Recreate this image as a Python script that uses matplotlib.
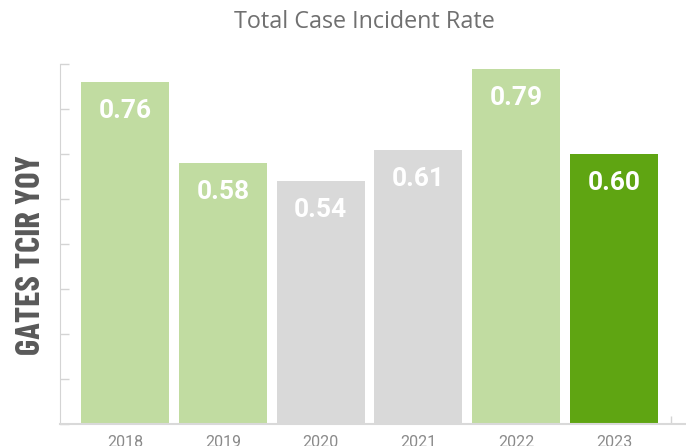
import matplotlib
matplotlib.use("Agg")
import matplotlib.pyplot as plt

# data
years = ["2018", "2019", "2020", "2021", "2022", "2023"]
tcir = [0.76, 0.58, 0.54, 0.61, 0.79, 0.60]
bar_colors = ["#c1dca1", "#c1dca1", "#d9d9d9", "#d9d9d9", "#c1dca1", "#5fa512"]

fig = plt.figure(figsize=(6.86, 4.46), dpi=100)
ax = fig.add_axes([60 / 686, 22 / 446, 626 / 686, 360 / 446])

x = list(range(len(years)))
bars = ax.bar(x, tcir, width=0.9, color=bar_colors, zorder=2)

for xi, v in zip(x, tcir):
    ax.text(xi, v - 0.065, f"{v:.2f}", ha="center", va="center",
            color="white", fontsize=19, fontweight="bold", family="Roboto")

ax.set_xlim(-0.665, 5.736)
ax.set_ylim(0, 0.8)

ax.set_xticks(x)
ax.set_xticklabels(years)
ax.tick_params(axis="x", length=0, pad=8, labelsize=11.5, labelcolor="#8a8a8a")
for lab in ax.get_xticklabels():
    lab.set_family("Roboto")

ax.set_yticks([i / 10 for i in range(9)])
ax.set_yticklabels([])
ax.tick_params(axis="y", direction="in", length=6.5, width=1, color="#d4d4d4")

# little end mark on the x axis
ax.set_xticks([5.58], minor=True)
ax.tick_params(axis="x", which="minor", direction="in", length=6, width=1, color="#d4d4d4")

for s in ["top", "right"]:
    ax.spines[s].set_visible(False)
ax.spines["left"].set_color("#d4d4d4")
ax.spines["bottom"].set_color("#d9d9d9")
ax.spines["bottom"].set_linewidth(1.5)

fig.text(364 / 686, 1 - 22 / 446, "Total Case Incident Rate", ha="center", va="center",
         fontsize=16.8, color="#707070", family="Open Sans")
fig.text(31 / 686, 1 - 255 / 446, "GATES TCIR YOY", rotation=90, ha="center", va="center",
         fontsize=25, fontweight="bold", color="#595959", family=["Barlow Condensed", "DejaVu Sans"])

fig.savefig("out.png", dpi=100)
